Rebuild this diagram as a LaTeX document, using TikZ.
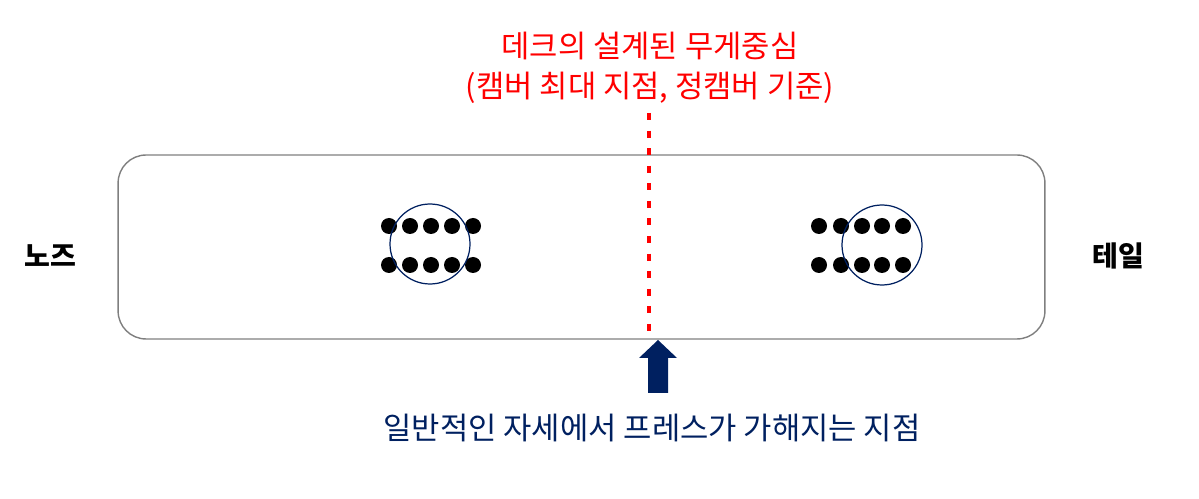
\documentclass[tikz,border=0pt]{standalone}
\usepackage{fontspec}
\newfontfamily\kr{Noto Sans CJK KR}
\definecolor{navy}{HTML}{002060}
\definecolor{boxgray}{HTML}{7F7F7F}
\tikzset{
  deckbox/.style={draw=boxgray, line width=0.8pt, rounded corners=0.56cm,
    minimum width=18.54cm, minimum height=3.68cm, inner sep=0pt},
  bolt/.style={fill=black},
  truck/.style={draw=navy, line width=0.7pt},
  label/.style={font=\kr\fontsize{17.5}{23}\selectfont, align=center}
}
\begin{document}
\begin{tikzpicture}[x=0.02cm, y=-0.02cm]
    \useasboundingbox (0, 0) rectangle (1199, 499);
    \node[deckbox] (deck) at (581.5, 247) {};
    % bolts and trucks
    \foreach \x in {389, 410, 431, 452, 473} {
        \fill[bolt] (\x, 226) circle [radius=8];
        \fill[bolt] (\x, 265) circle [radius=8];
    }
    \draw[truck] (430, 244) circle [radius=40];
    \foreach \x in {819, 841, 862, 882, 903} {
        \fill[bolt] (\x, 226) circle [radius=8];
        \fill[bolt] (\x, 265) circle [radius=8];
    }
    \draw[truck] (882, 245) circle [radius=40];
    % center of mass
    \node[label, red] (cg) at (650, 68) {데크의 설계된 무게중심\\(캠버 최대 지점, 정캠버 기준)};
    \coordinate (cgtop) at (649, 113);
    \draw[red, line width=2.2pt, dash pattern=on 4 off 6] (cgtop) -- (cgtop |- deck.south);
    \fill[navy] (648, 393) -- (648, 358) -- (639, 358) -- (658, 340) -- (677, 358)
        -- (668, 358) -- (668, 393) -- cycle;
    \node[label, navy] (press) at (652, 428) {일반적인 자세에서 프레스가 가해지는 지점};
    \node[label, font=\kr\bfseries\fontsize{16}{20}\selectfont] (nose) at (50, 256) {노즈};
    \node[label, font=\kr\bfseries\fontsize{16}{20}\selectfont] (tail) at (1118, 256) {테일};
\end{tikzpicture}
\end{document}
